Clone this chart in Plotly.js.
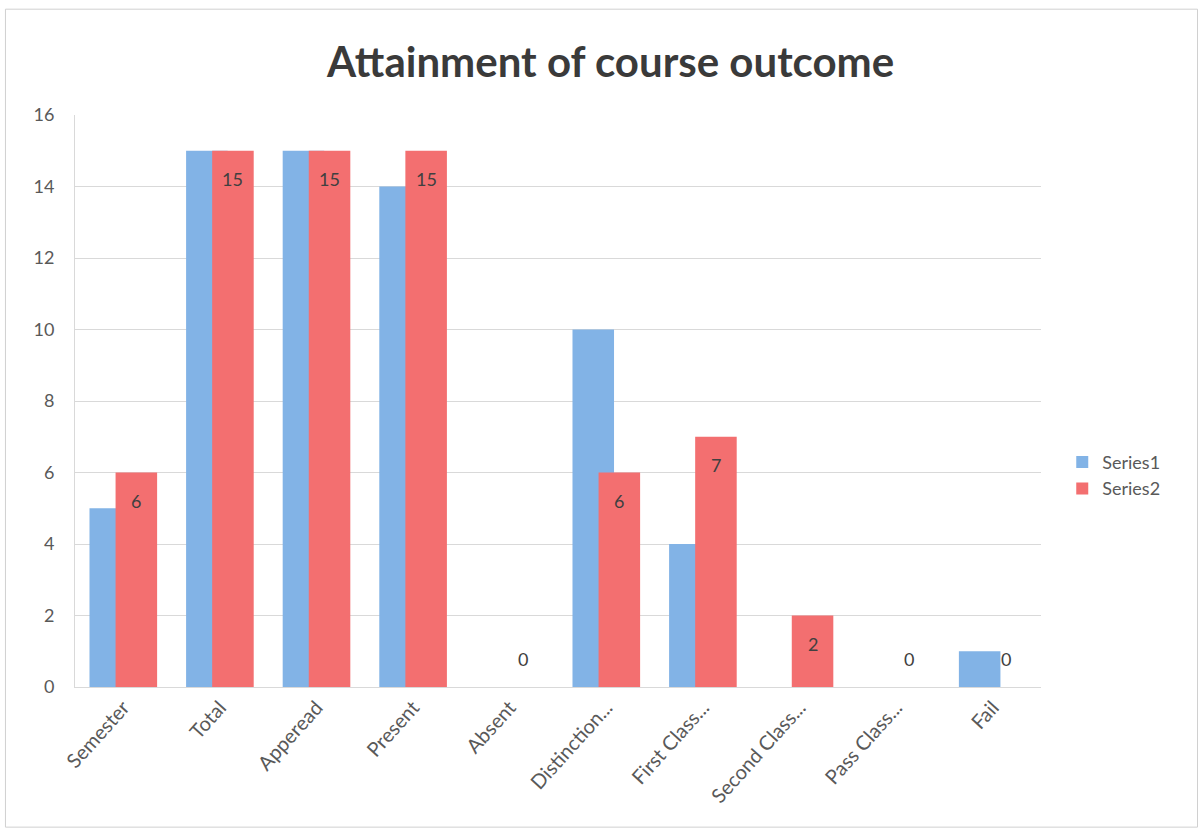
<!DOCTYPE html>
<html>
<head>
<meta charset="utf-8">
<script src="https://cdn.plot.ly/plotly-3.0.1.min.js"></script>
<style>html,body{margin:0;padding:0;background:#fff;}#chart{width:1202px;height:830px;}</style>
</head>
<body>
<div id="chart"></div>
<script>
const categories = ["Semester", "Total", "Apperead", "Present", "Absent", "Distinction...", "First Class...", "Second Class...", "Pass Class...", "Fail"];
const series1 = [5, 15, 15, 14, 0, 10, 4, 0, 0, 1];
const series2 = [6, 15, 15, 15, 0, 6, 7, 2, 0, 0];
const yTicks = [0, 2, 4, 6, 8, 10, 12, 14, 16];

const FONT = "Lato, 'Open Sans', sans-serif";
const traces = [
  {
    type: "bar", name: "Series1", x: categories, y: series1,
    marker: {color: "#82b3e6"},
    width: 0.43, offset: -0.35,
    hoverinfo: "x+y"
  },
  {
    type: "bar", name: "Series2", x: categories, y: series2,
    marker: {color: "#f36f70"},
    width: 0.43, offset: -0.08,
    hoverinfo: "x+y"
  }
];

// data labels for Series2 (inside end; zero values sit just above the baseline)
const labelAnnotations = categories.map((c, i) => {
  const v = series2[i];
  const zero = v === 0;
  return {
    x: c, y: v, xref: "x", yref: "y",
    text: String(v), showarrow: false,
    xshift: 13,
    yanchor: zero ? "bottom" : "top",
    yshift: zero ? 15 : -15,
    font: {family: FONT, size: 18, color: "#404040"}
  };
});

const layout = {
  width: 1202, height: 830,
  paper_bgcolor: "#ffffff", plot_bgcolor: "#ffffff",
  margin: {l: 75, r: 161, t: 115, b: 143},
  barmode: "overlay",
  showlegend: true,
  title: {
    text: "Attainment of course outcome",
    x: 0.508, xanchor: "center", y: 0.925, yanchor: "middle",
    font: {family: FONT, size: 42, color: "#3a3a3a", weight: "bold"}
  },
  xaxis: {
    type: "category",
    tickangle: -48,
    tickfont: {family: FONT, size: 20, color: "#595959"},
    showgrid: false,
    showline: true, linecolor: "#d9d9d9", linewidth: 1,
    ticks: "", fixedrange: true
  },
  yaxis: {
    range: [0, 16],
    tickvals: yTicks,
    ticktext: yTicks.map(String),
    tickfont: {family: FONT, size: 18, color: "#595959"},
    showgrid: true, gridcolor: "#d9d9d9", gridwidth: 1,
    zeroline: false,
    showline: true, linecolor: "#d9d9d9", linewidth: 1,
    ticks: "", ticklabelstandoff: 16,
    fixedrange: true
  },
  legend: {
    x: 1.022, xanchor: "left", y: 0.37, yanchor: "middle",
    font: {family: FONT, size: 18, color: "#595959"},
    bgcolor: "rgba(0,0,0,0)", tracegroupgap: 2,
    traceorder: "normal"
  },
  annotations: labelAnnotations,
  shapes: [
    {type: "rect", xref: "paper", yref: "paper",
     x0: -0.072, x1: 1.162, y0: -0.245, y1: 1.185,
     line: {color: "#d0d0d0", width: 1}, fillcolor: "rgba(0,0,0,0)", layer: "below"}
  ]
};

Plotly.newPlot("chart", traces, layout, {displayModeBar: false, staticPlot: true});
</script>
</body>
</html>
